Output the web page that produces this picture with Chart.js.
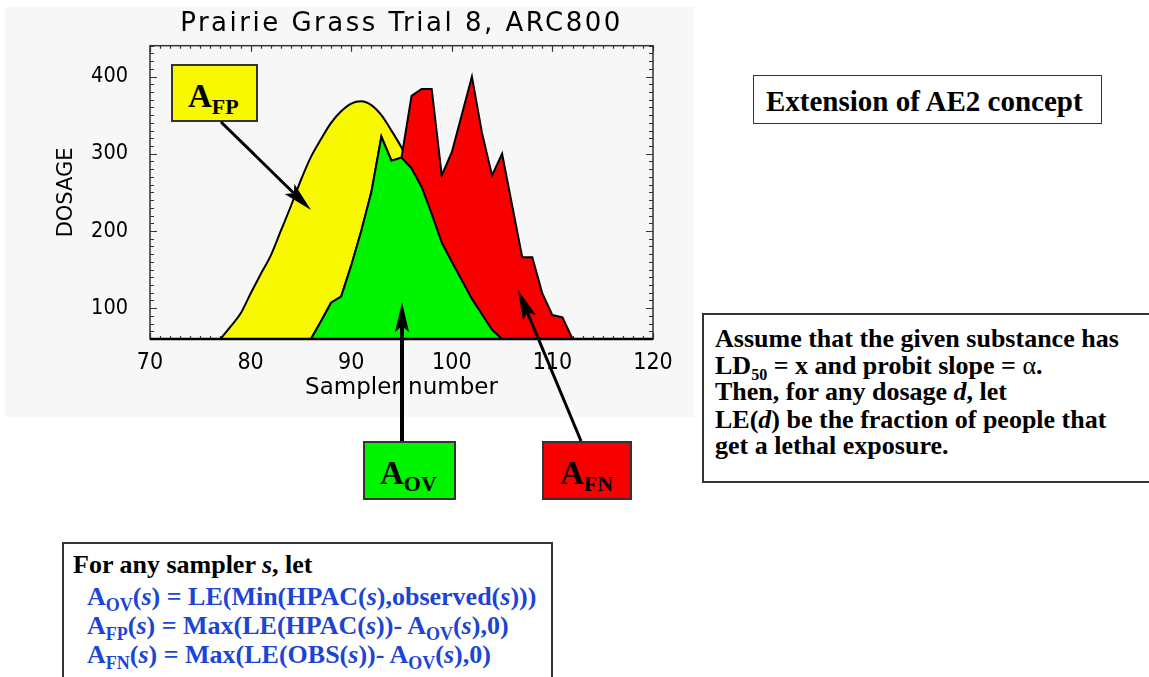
<!DOCTYPE html>
<html>
<head>
<meta charset="utf-8">
<script src="https://cdn.jsdelivr.net/npm/chart.js@4.4.0/dist/chart.umd.min.js"></script>
<style>
  html, body { margin:0; padding:0; overflow:hidden; background:#fff; }
  #page { position:relative; width:1149px; height:677px; overflow:hidden;
          font-family:'Liberation Serif','Times New Roman',serif; }
  #plotbg { position:absolute; left:5px; top:7px; width:689px; height:410px; background:#f7f7f7; }
  #plotbg canvas { position:absolute; left:0; top:0; }
  .box { position:absolute; box-sizing:border-box; border:2px solid #333; }
  .tag { position:absolute; font-weight:bold; font-size:33px; line-height:33px; white-space:nowrap; }
  .tag span { font-size:22px; position:relative; top:7px; }
  .ln { position:absolute; font-weight:bold; font-size:26px; line-height:27px; white-space:nowrap; }
  .ln .sb { font-size:18px; position:relative; top:6px; }
  .blue { color:#1c45d6; }
  #arrows { position:absolute; left:0; top:0; z-index:5; pointer-events:none; }
</style>
</head>
<body>
<div id="page">
<div id="plotbg"><canvas id="chart" width="689" height="410"></canvas></div>

<!-- label boxes -->
<div class="box" style="left:171px;top:64px;width:87px;height:58px;background:#f8f800"></div>
<div class="tag" style="left:188px;top:80px">A<span>FP</span></div>
<div class="box" style="left:363px;top:441px;width:93px;height:59px;background:#00f400"></div>
<div class="tag" style="left:380px;top:457px">A<span>OV</span></div>
<div class="box" style="left:542px;top:441px;width:90px;height:59px;background:#f80000"></div>
<div class="tag" style="left:560px;top:457px">A<span>FN</span></div>

<div class="box" style="left:753px;top:75px;width:349px;height:49px;border-width:1.5px"></div>
<div class="ln" style="left:766px;top:85px;font-size:29px;line-height:33px">Extension of AE2 concept</div>

<div class="box" style="left:702px;top:313px;width:447px;height:170px;border-right:none"></div>
<div class="ln" style="left:715px;top:325px">Assume that the given substance has</div>
<div class="ln" style="left:715px;top:352px">LD<span class="sb" style="font-size:16px">50</span> = x and probit slope = <span style="font-weight:normal">&alpha;</span>.</div>
<div class="ln" style="left:715px;top:378px">Then, for any dosage <i>d</i>, let</div>
<div class="ln" style="left:715px;top:406px">LE(<i>d</i>) be the fraction of people that</div>
<div class="ln" style="left:715px;top:432px">get a lethal exposure.</div>

<div class="box" style="left:62px;top:542px;width:491px;height:135px;border-bottom:none"></div>
<div class="ln" style="left:73px;top:551px">For any sampler <i>s</i>, let</div>
<div class="ln blue" style="left:87px;top:583px">A<span class="sb">OV</span>(<i>s</i>) = LE(Min(HPAC(<i>s</i>),observed(<i>s</i>)))</div>
<div class="ln blue" style="left:87px;top:612px">A<span class="sb">FP</span>(<i>s</i>) = Max(LE(HPAC(<i>s</i>))- A<span class="sb">OV</span>(<i>s</i>),0)</div>
<div class="ln blue" style="left:87px;top:641px">A<span class="sb">FN</span>(<i>s</i>) = Max(LE(OBS(<i>s</i>))- A<span class="sb">OV</span>(<i>s</i>),0)</div>

<svg id="arrows" width="1149" height="677"></svg>
</div>

<script>
// sampler numbers and dosages
const hpacSamplers = [77, 78, 79, 80, 81, 82, 83, 84, 85, 86, 87, 88, 89, 90, 91, 92, 93, 94, 95, 96, 97, 98, 99, 100, 101, 102, 103, 104, 105];
const hpacDosage   = [60, 76, 93, 119, 144, 168, 200, 232, 266, 296, 319, 340, 355, 365, 368, 363, 350, 330, 308, 281, 257, 222, 185, 160, 136, 112, 92, 72, 60];

const obsSamplers = [86, 87, 88, 89, 90, 91, 92, 93, 94, 95, 96, 97, 98, 99, 100, 101, 102, 103, 104, 105, 106, 107, 108, 109, 110, 111, 112];
const obsDosage   = [60, 83, 107, 115, 155, 200, 250, 322, 291, 295, 375, 384, 384, 272, 302, 351, 400, 327, 272, 300, 233, 166, 166, 119, 91, 88, 60];

// overlap = lower of the two curves
const ovSamplers = [86, 87, 88, 89, 90, 91, 92, 93, 94, 95, 96, 97, 98, 99, 100, 101, 102, 103, 104, 105];
const ovDosage   = [60, 83, 107, 115, 155, 200, 250, 322, 291, 295, 281, 257, 222, 185, 160, 136, 112, 92, 72, 60];

const xTicks = [70, 80, 90, 100, 110, 120];
const yTicks = [100, 200, 300, 400];
const xMin = 70, xMax = 120, yMin = 60, yMax = 440;

const pts = (xs, ys) => xs.map((x, i) => ({x: x, y: ys[i]}));

// inward IDL-style ticks + frame
const frameTicks = {
    id: 'frameTicks',
    afterLayout(chart) {
        // wider letter spacing for the title only
        const tb = chart.titleBlock;
        if (tb && !tb._spaced) {
            const orig = tb.draw.bind(tb);
            tb.draw = function () {
                chart.ctx.save();
                chart.ctx.letterSpacing = '2.5px';
                orig();
                chart.ctx.restore();
            };
            tb._spaced = true;
        }
    },
    beforeDatasetsDraw(chart) {
        const {ctx, chartArea: a, scales: {x, y}} = chart;
        ctx.save();
        ctx.strokeStyle = '#333';
        ctx.lineWidth = 1.2;
        ctx.beginPath();
        for (let v = xMin; v <= xMax; v += 1) {
            const px = Math.round(x.getPixelForValue(v)) + 0.5;
            const len = v % 10 === 0 ? 6 : 3;
            ctx.moveTo(px, a.bottom); ctx.lineTo(px, a.bottom - len);
            ctx.moveTo(px, a.top); ctx.lineTo(px, a.top + len);
        }
        for (let v = yMin; v <= yMax; v += 10) {
            const py = Math.round(y.getPixelForValue(v)) + 0.5;
            const len = v % 100 === 0 ? 7 : 4;
            ctx.moveTo(a.left, py); ctx.lineTo(a.left + len, py);
            ctx.moveTo(a.right, py); ctx.lineTo(a.right - len, py);
        }
        ctx.stroke();
        ctx.lineWidth = 1.5;
        ctx.strokeRect(a.left, a.top, a.right - a.left, a.bottom - a.top);
        ctx.restore();
    },
    afterDatasetsDraw(chart) {
        const {ctx, chartArea: a} = chart;
        ctx.save();
        ctx.strokeStyle = '#000';
        ctx.lineWidth = 2.5;
        ctx.beginPath();
        ctx.moveTo(a.left, a.bottom);
        ctx.lineTo(a.right, a.bottom);
        ctx.stroke();
        ctx.restore();
    }
};

const axisFont = {family: "'DejaVu Sans', sans-serif", size: 23};
const condensed = "'DejaVu Sans Condensed', 'DejaVu Sans', sans-serif";

new Chart(document.getElementById('chart'), {
    type: 'line',
    data: {
        datasets: [
            {label: 'overlap', data: pts(ovSamplers, ovDosage), backgroundColor: '#00f400', order: 0},
            {label: 'observed', data: pts(obsSamplers, obsDosage), backgroundColor: '#f80000', order: 1},
            {label: 'HPAC', data: pts(hpacSamplers, hpacDosage), backgroundColor: '#f8f800', order: 2, cubicInterpolationMode: 'monotone'}
        ].map(d => Object.assign({fill: 'start', borderColor: '#000', borderWidth: 2, pointRadius: 0, tension: 0}, d))
    },
    options: {
        responsive: false,
        animation: false,
        events: [],
        layout: {padding: {left: 0, right: 41, top: 0, bottom: 0}},
        plugins: {
            legend: {display: false},
            tooltip: {enabled: false},
            title: {
                display: true,
                text: 'Prairie Grass Trial 8, ARC800',
                fullSize: false,
                color: '#000',
                font: {family: "'DejaVu Sans', sans-serif", size: 26, weight: 'normal'},
                padding: {top: 2, bottom: 5.5}
            }
        },
        scales: {
            x: {
                type: 'linear', min: xMin, max: xMax,
                grid: {display: false, drawTicks: false},
                border: {display: false},
                ticks: {color: '#000', font: {family: condensed, size: 23}, padding: 10, maxRotation: 0},
                afterBuildTicks: s => { s.ticks = xTicks.map(v => ({value: v})); },
                afterFit: s => { s.height = 78; },
                title: {display: true, text: 'Sampler number', color: '#000', font: axisFont, padding: {top: 0, bottom: 15}}
            },
            y: {
                type: 'linear', min: yMin, max: yMax,
                grid: {display: false, drawTicks: false},
                border: {display: false},
                ticks: {color: '#000', font: {family: condensed, size: 21.5}, padding: 22},
                afterBuildTicks: s => { s.ticks = yTicks.map(v => ({value: v})); },
                afterFit: s => { s.width = 145; },
                title: {display: true, text: 'DOSAGE', color: '#000', font: {family: "'DejaVu Sans', sans-serif", size: 21}, padding: {top: 49, bottom: 0}}
            }
        }
    },
    plugins: [frameTicks]
});

// annotation arrows
const arrows = [
    {from: [221, 122], to: [311, 210], w: 3},
    {from: [402, 441], to: [402, 302], w: 4},
    {from: [581, 441], to: [518, 290], w: 3}
];
const svg = document.getElementById('arrows');
let out = '';
arrows.forEach(a => {
    const [x1, y1] = a.from, [x2, y2] = a.to;
    const d = Math.hypot(x2 - x1, y2 - y1);
    const ux = (x2 - x1) / d, uy = (y2 - y1) / d;
    const nx = -uy, ny = ux;
    const L = 30, W = 7;
    const bx = x2 - ux * L, by = y2 - uy * L;
    const mx = x2 - ux * L * 0.8, my = y2 - uy * L * 0.8;
    out += `<line x1="${x1}" y1="${y1}" x2="${mx}" y2="${my}" stroke="#000" stroke-width="${a.w}"/>`;
    out += `<polygon points="${x2},${y2} ${bx + nx * W},${by + ny * W} ${mx},${my} ${bx - nx * W},${by - ny * W}" fill="#000"/>`;
});
svg.innerHTML = out;
</script>
</body>
</html>
